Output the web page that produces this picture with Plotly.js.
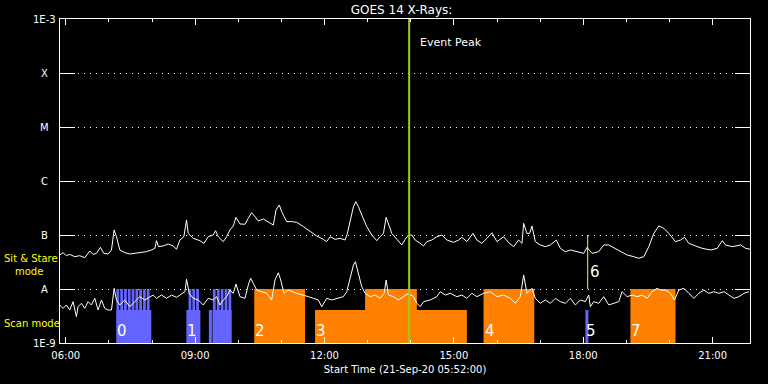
<!DOCTYPE html>
<html>
<head>
<meta charset="utf-8">
<script src="https://cdn.plot.ly/plotly-3.0.1.min.js"></script>
<style>html,body{margin:0;padding:0;background:#000;}#chart{width:768px;height:384px;}</style>
</head>
<body>
<div id="chart"></div>
<script>
// ---- GOES 14 long channel (1-8 A), time in hours of 21-Sep-2020, flux in W/m^2
const longT = [5.860,5.937,6.015,6.092,6.208,6.324,6.440,6.557,6.634,6.711,6.804,6.882,6.982,7.060,7.122,7.176,7.253,7.369,7.485,7.718,7.872,7.988,8.066,8.105,8.151,8.259,8.375,8.492,8.569,8.646,8.739,8.801,8.840,8.956,9.111,9.204,9.304,9.420,9.475,9.536,9.653,9.730,9.807,9.885,9.947,10.040,10.156,10.233,10.310,10.388,10.465,10.581,10.697,10.814,10.875,10.953,11.007,11.061,11.123,11.239,
11.355,11.510,11.664,11.819,11.974,12.051,12.129,12.245,12.361,12.477,12.531,12.593,12.671,12.725,12.787,12.864,12.980,13.096,13.212,13.290,13.367,13.429,13.483,13.561,13.677,13.793,13.870,13.948,14.025,14.103,14.219,14.296,14.373,14.489,14.606,14.722,14.838,14.993,15.109,15.186,15.302,15.441,15.534,15.650,15.767,15.883,15.999,16.154,16.270,16.386,16.502,16.579,16.618,
16.695,16.757,16.811,16.888,17.004,17.120,17.237,17.376,17.469,17.585,17.701,17.856,18.011,18.088,18.204,18.359,18.475,18.591,18.746,18.862,19.017,19.172,19.288,19.404,19.520,19.636,19.752,19.868,19.984,20.139,20.255,20.348,20.449,20.603,20.758,20.952,21.107,21.223,21.300,21.455,21.649,21.765,21.881];
const longF = [4.26e-8,4.71e-8,4.14e-8,4.38e-8,3.97e-8,4.14e-8,3.80e-8,5.06e-8,4.38e-8,4.57e-8,5.91e-8,4.57e-8,4.45e-8,5.28e-8,1.24e-7,9.31e-8,5.28e-8,4.71e-8,4.45e-8,4.64e-8,4.91e-8,5.28e-8,5.66e-8,7.85e-8,6.08e-8,6.26e-8,6.81e-8,6.26e-8,5.43e-8,8.07e-8,9.31e-8,1.90e-7,1.07e-7,8.68e-8,7.85e-8,7.01e-8,9.31e-8,1.00e-7,1.20e-7,9.31e-8,7.53e-8,9.31e-8,1.24e-7,1.47e-7,2.12e-7,1.60e-7,1.58e-7,2.04e-7,2.59e-7,2.19e-7,1.82e-7,1.98e-7,1.72e-7,1.53e-7,2.90e-7,3.59e-7,2.70e-7,2.19e-7,1.77e-7,1.77e-7,
1.72e-7,1.43e-7,1.15e-7,9.59e-8,8.31e-8,7.53e-8,9.31e-8,8.31e-8,8.68e-8,8.07e-8,1.07e-7,1.90e-7,3.35e-7,4.14e-7,3.35e-7,2.35e-7,1.43e-7,1.00e-7,7.85e-8,9.31e-8,1.07e-7,2.12e-7,1.64e-7,1.07e-7,8.31e-8,6.53e-8,8.31e-8,1.00e-7,1.00e-7,8.07e-8,7.01e-8,6.26e-8,7.53e-8,8.07e-8,9.31e-8,1.00e-7,8.07e-8,7.32e-8,8.07e-8,9.05e-8,7.53e-8,1.07e-7,8.07e-8,7.01e-8,8.68e-8,1.10e-7,7.53e-8,9.31e-8,7.21e-8,6.08e-8,8.07e-8,7.01e-8,1.64e-7,
1.07e-7,1.07e-7,1.47e-7,7.53e-8,6.53e-8,6.08e-8,6.53e-8,8.07e-8,5.66e-8,4.91e-8,5.28e-8,4.91e-8,4.57e-8,5.91e-8,4.57e-8,4.91e-8,6.53e-8,6.53e-8,5.66e-8,4.91e-8,4.26e-8,3.97e-8,3.70e-8,3.97e-8,6.08e-8,1.07e-7,1.47e-7,1.33e-7,1.07e-7,7.53e-8,8.07e-8,9.05e-8,7.01e-8,6.26e-8,5.66e-8,5.28e-8,5.66e-8,7.85e-8,6.53e-8,6.08e-8,6.53e-8,5.66e-8,5.43e-8];

// ---- GOES 14 short channel (0.5-4 A)
const shortT = [5.860,5.937,6.015,6.092,6.170,6.247,6.286,6.363,6.440,6.518,6.595,6.673,6.750,6.827,6.905,6.982,7.060,7.122,7.176,7.253,7.369,7.485,7.602,7.718,7.834,7.950,8.027,8.105,8.221,8.337,8.453,8.569,8.685,8.763,8.801,8.863,8.956,9.072,9.188,9.304,9.420,9.498,9.575,9.653,9.730,9.807,9.885,9.947,10.040,10.156,10.233,10.287,10.349,10.427,10.543,10.659,10.775,10.852,10.930,10.984,11.061,11.162,
11.355,11.510,11.626,11.742,11.858,11.935,12.051,12.167,12.284,12.438,12.516,12.593,12.671,12.717,12.787,12.864,12.942,13.058,13.174,13.290,13.383,13.429,13.483,13.599,13.715,13.832,13.948,14.064,14.141,14.219,14.296,14.451,14.606,14.683,14.799,14.915,15.070,15.186,15.302,15.418,15.534,15.689,15.844,15.999,16.154,16.308,16.424,16.541,16.618,
16.695,16.811,16.888,17.004,17.120,17.237,17.353,17.469,17.585,17.701,17.817,17.933,18.049,18.127,18.165,18.243,18.359,18.475,18.591,18.707,18.823,18.901,19.017,19.133,19.249,19.365,19.481,19.597,19.713,19.791,19.907,20.023,20.116,20.216,20.333,20.449,20.565,20.681,20.797,20.913,21.029,21.145,21.262,21.378,21.494,21.610,21.726,21.842];
const shortF = [5.06e-9,4.38e-9,5.06e-9,4.08e-9,5.83e-9,3.07e-9,4.71e-9,5.43e-9,4.38e-9,5.83e-9,5.06e-9,6.72e-9,4.08e-9,6.26e-9,4.38e-9,4.08e-9,4.08e-9,1.03e-8,6.26e-9,5.06e-9,6.26e-9,4.71e-9,5.83e-9,7.21e-9,6.26e-9,7.21e-9,7.74e-9,6.72e-9,7.74e-9,6.72e-9,7.74e-9,7.01e-9,8.08e-9,8.92e-9,1.51e-8,8.31e-9,6.72e-9,6.26e-9,5.06e-9,6.72e-9,6.26e-9,7.21e-9,5.06e-9,6.26e-9,7.21e-9,9.58e-9,8.31e-9,1.24e-8,7.21e-9,6.72e-9,1.19e-8,1.58e-8,1.27e-8,9.58e-9,8.92e-9,8.31e-9,6.26e-9,1.47e-8,2.00e-8,1.47e-8,8.31e-9,9.58e-9,
8.31e-9,7.74e-9,7.21e-9,6.72e-9,6.26e-9,4.71e-9,6.72e-9,6.26e-9,6.72e-9,7.21e-9,8.92e-9,1.58e-8,2.78e-8,3.21e-8,1.95e-8,1.10e-8,8.31e-9,7.21e-9,7.74e-9,6.72e-9,8.31e-9,1.47e-8,7.74e-9,7.21e-9,6.26e-9,7.21e-9,8.31e-9,7.21e-9,5.43e-9,4.71e-9,5.83e-9,6.26e-9,7.21e-9,8.92e-9,7.74e-9,8.31e-9,7.21e-9,7.74e-9,6.72e-9,8.31e-9,7.21e-9,8.31e-9,8.92e-9,7.21e-9,7.74e-9,6.72e-9,5.43e-9,7.21e-9,1.82e-8,
8.31e-9,1.03e-8,6.72e-9,5.43e-9,6.26e-9,5.43e-9,6.72e-9,5.83e-9,5.43e-9,6.72e-9,5.06e-9,6.26e-9,5.83e-9,7.74e-9,4.71e-9,5.83e-9,5.43e-9,7.21e-9,5.06e-9,5.43e-9,5.83e-9,8.92e-9,7.21e-9,7.74e-9,7.21e-9,7.74e-9,6.72e-9,8.92e-9,1.03e-8,9.58e-9,9.58e-9,8.31e-9,6.26e-9,9.58e-9,1.03e-8,8.31e-9,6.72e-9,8.31e-9,9.58e-9,8.31e-9,8.92e-9,8.31e-9,8.92e-9,7.74e-9,6.72e-9,7.21e-9,8.31e-9,8.92e-9];

// ---- Observations (start/end hours, bar top, mode, label)
const obsStart = [7.176, 8.797, 9.319, 9.405, 10.371, 11.780, 12.941, 15.688, 18.050, 19.094];
const obsEnd   = [7.984, 9.122, 9.389, 9.846, 11.548, 15.302, 14.142, 16.865, 18.119, 20.139];
const obsLevel = [4.1e-9, 4.1e-9, 4.1e-9, 4.1e-9, 1e-8, 4.1e-9, 1e-8, 1e-8, 4.1e-9, 1e-8];
const obsMode  = ['scan','scan','scan','scan','stare','stare','stare','stare','scan','stare'];
const obsLabel = ['0','1','','','2','3','','4','5','7'];
// raster steps of the scan observations (reach the A level)
const rasterStart = [7.176,7.264,7.352,7.440,7.528,7.616,7.704,7.792,7.880, 8.848,8.936,9.024, 9.412,9.503,9.593,9.684,9.774];
const rasterEnd   = [7.240,7.328,7.416,7.504,7.592,7.680,7.768,7.856,7.944, 8.912,9.000,9.088, 9.476,9.567,9.657,9.748,9.838];
const rasterLevel = 1e-8;

// ---- events
const peakTime = 13.963;
const obs6Time = 18.103;
const obs6Range = [1e-7, 1e-8];
const obs6Label = '6';

// ---- axis
const yTickVals = [1e-9, 1e-8, 1e-7, 1e-6, 1e-5, 1e-4, 1e-3];
const yTickText = ['1E-9', 'A', 'B', 'C', 'M', 'X', '1E-3'];
const xStart = 5 + 52/60, xEnd = 21 + 52/60;

// ---- helpers
const T0 = Date.UTC(2020, 8, 21);
function toDate(h) { return new Date(T0 + h * 3600000).toISOString().replace('T', ' ').slice(0, 23); }
const BASE = 1e-9;
function polys(starts, ends, levels) {
  const xs = [], ys = [];
  for (let i = 0; i < starts.length; i++) {
    const s = toDate(starts[i]), e = toDate(ends[i]);
    const l = Array.isArray(levels) ? levels[i] : levels;
    xs.push(s, s, e, e, s, null);
    ys.push(BASE, l, l, BASE, BASE, null);
  }
  return {xs, ys};
}
const COLORS = {scan: '#6464ff', stare: '#ff8000'};
const traces = [];
['scan', 'stare'].forEach(m => {
  const idx = obsMode.map((v, i) => v === m ? i : -1).filter(i => i >= 0);
  const p = polys(idx.map(i => obsStart[i]), idx.map(i => obsEnd[i]), idx.map(i => obsLevel[i]));
  traces.push({x: p.xs, y: p.ys, type: 'scatter', mode: 'lines', fill: 'toself', fillcolor: COLORS[m],
    line: {width: 0, color: COLORS[m]}, hoverinfo: 'skip'});
});
const rp = polys(rasterStart, rasterEnd, rasterLevel);
traces.push({x: rp.xs, y: rp.ys, type: 'scatter', mode: 'lines', fill: 'toself', fillcolor: COLORS.scan,
  line: {width: 0, color: COLORS.scan}, hoverinfo: 'skip'});

traces.push({x: longT.map(toDate), y: longF, type: 'scatter', mode: 'lines', line: {color: '#ffffff', width: 1}});
traces.push({x: shortT.map(toDate), y: shortF, type: 'scatter', mode: 'lines', line: {color: '#ffffff', width: 1}});
traces.push({x: [toDate(peakTime), toDate(peakTime)], y: [1e-9, 1e-3], type: 'scatter', mode: 'lines', line: {color: '#9acd1e', width: 2}});
traces.push({x: [toDate(obs6Time), toDate(obs6Time)], y: obs6Range, type: 'scatter', mode: 'lines', line: {color: '#ffff00', width: 1}});

const FONT = 'DejaVu Sans, sans-serif';
const annotations = [];
yTickVals.forEach((v, i) => annotations.push({xref: 'paper', yref: 'y', x: -16/690, y: Math.log10(v), text: yTickText[i],
  showarrow: false, xanchor: 'center', yanchor: 'middle', font: {family: FONT, size: 10, color: '#ffffff'}}));
obsLabel.forEach((t, i) => { if (t) annotations.push({xref: 'x', yref: 'y', x: toDate(obsStart[i]), y: -9, text: t,
  showarrow: false, xanchor: 'left', yanchor: 'bottom', xshift: -1, yshift: 1, font: {family: FONT, size: 15, color: '#ffffff'}}); });
annotations.push({xref: 'x', yref: 'y', x: toDate(obs6Time), y: -7.685, text: obs6Label, showarrow: false,
  xanchor: 'left', yanchor: 'middle', font: {family: FONT, size: 15, color: '#ffffff'}});
annotations.push({xref: 'x', yref: 'y', x: toDate(peakTime), y: -3.444, text: 'Event Peak', showarrow: false,
  xanchor: 'left', yanchor: 'middle', xshift: 9, font: {family: FONT, size: 11, color: '#ffffff'}});
annotations.push({xref: 'paper', yref: 'paper', x: -58/690, y: 0.261, text: 'Sit & Stare', showarrow: false,
  xanchor: 'left', yanchor: 'middle', font: {family: FONT, size: 10, color: '#ffff00'}});
annotations.push({xref: 'paper', yref: 'paper', x: -47/690, y: 0.221, text: 'mode', showarrow: false,
  xanchor: 'left', yanchor: 'middle', font: {family: FONT, size: 10, color: '#ffff00'}});
annotations.push({xref: 'paper', yref: 'paper', x: -58/690, y: 0.060, text: 'Scan mode', showarrow: false,
  xanchor: 'left', yanchor: 'middle', font: {family: FONT, size: 10, color: '#ffff00'}});

const layout = {
  width: 768, height: 384,
  margin: {l: 60, r: 18, t: 19, b: 41},
  paper_bgcolor: '#000000', plot_bgcolor: '#000000',
  showlegend: false,
  font: {family: FONT, color: '#ffffff'},
  title: {text: 'GOES 14 X-Rays:', x: 0.495, xref: 'paper', y: 0.974, yref: 'container', yanchor: 'middle',
    font: {family: FONT, size: 12, color: '#ffffff'}},
  xaxis: {type: 'date', range: [toDate(xStart), toDate(xEnd)], showgrid: false, zeroline: false,
    showline: true, linecolor: '#ffffff', linewidth: 1, mirror: 'allticks',
    ticks: 'inside', ticklen: 6, tickcolor: '#ffffff', tickwidth: 1,
    tick0: toDate(0), dtick: 3 * 3600000, tickformat: '%H:%M', ticklabelstandoff: 3,
    tickfont: {family: FONT, size: 10, color: '#ffffff'},
    minor: {dtick: 3600000, tick0: toDate(0), ticks: 'inside', ticklen: 3, tickcolor: '#ffffff', showgrid: false},
    title: {text: 'Start Time (21-Sep-20 05:52:00)', font: {family: FONT, size: 10, color: '#ffffff'}, standoff: 5}},
  yaxis: {type: 'log', range: [-9, -3], tickmode: 'array', tickvals: yTickVals, showticklabels: false,
    showline: true, linecolor: '#ffffff', linewidth: 1, mirror: 'allticks', zeroline: false,
    ticks: 'inside', ticklen: 15, tickcolor: '#ffffff', tickwidth: 1,
    showgrid: true, gridcolor: '#ffffff', gridwidth: 1, griddash: '1px,5px'},
  annotations: annotations
};
Plotly.newPlot('chart', traces, layout, {staticPlot: true, displayModeBar: false});
</script>
</body>
</html>
